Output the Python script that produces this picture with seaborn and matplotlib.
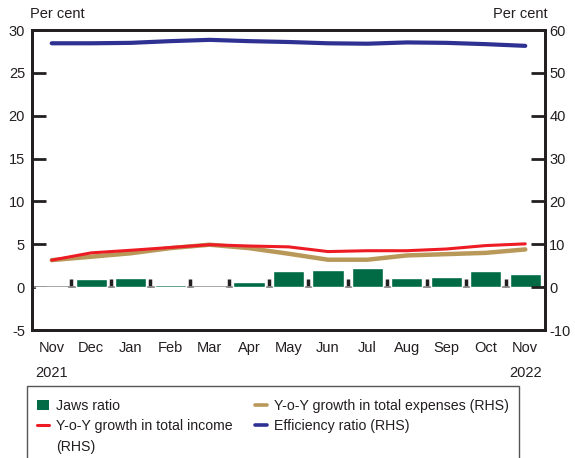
import numpy as np
import pandas as pd
import matplotlib
matplotlib.use("Agg")
import matplotlib.pyplot as plt
import seaborn as sns
from matplotlib.patches import Patch, Rectangle
from matplotlib.lines import Line2D

months = ["Nov", "Dec", "Jan", "Feb", "Mar", "Apr", "May", "Jun", "Jul", "Aug", "Sep", "Oct", "Nov"]
tick_labels = ["Nov\n2021", "Dec", "Jan", "Feb", "Mar", "Apr", "May", "Jun", "Jul", "Aug", "Sep", "Oct", "Nov\n2022"]
jaws_ratio = [-0.1, 0.95, 1.1, 0.25, -0.1, 0.55, 1.83, 2.02, 2.18, 1.09, 1.24, 1.83, 1.48]
income_growth = [6.3, 8.0, 8.6, 9.25, 9.9, 9.6, 9.4, 8.3, 8.5, 8.5, 8.9, 9.7, 10.1]
expense_growth = [6.3, 7.1, 7.9, 9.1, 9.9, 9.1, 7.8, 6.4, 6.4, 7.4, 7.7, 8.0, 8.8]
efficiency_ratio = [56.9, 56.9, 57.0, 57.4, 57.7, 57.4, 57.2, 56.9, 56.8, 57.1, 57.0, 56.7, 56.3]

GREEN = "#006B45"
RED = "#ED1C24"
GOLD = "#B8995A"
BLUE = "#2E3192"
DARK = "#231F20"

sns.set_theme(style="white")
plt.rcParams["font.family"] = ["Liberation Sans", "DejaVu Sans"]
plt.rcParams["font.size"] = 10.5
plt.rcParams["axes.unicode_minus"] = False

fig = plt.figure(figsize=(5.75, 4.58), dpi=100)
ax = fig.add_axes([32/575, 1-330/458, (545-32)/575, 300/458])

idx = np.arange(len(months))
df = pd.DataFrame({"pos": idx, "month": [f"{m}{i}" for i, m in enumerate(months)],
                   "jaws": jaws_ratio, "income": income_growth,
                   "expense": expense_growth, "eff": efficiency_ratio})

sns.barplot(data=df, x="month", y="jaws", color=GREEN, width=0.79, saturation=1,
            ax=ax, zorder=2)
ax.axhline(0, color="#8a8a8a", lw=1.3, zorder=1)
ax.set_xlim(-0.5, len(months) - 0.5)
ax.set_ylim(-5, 30)
ax.set_yticks(np.arange(-5, 31, 5))
ax.set_xticks(idx)
ax.set_xticklabels(tick_labels, linespacing=2.0, color=DARK)
ax.set_xlabel("")
ax.set_ylabel("")
ax.tick_params(axis="x", length=0, pad=8, labelsize=10.5)
ax.tick_params(axis="y", direction="in", length=10, width=2, color=DARK, pad=5,
               labelsize=10.5, labelcolor=DARK)
for t in ax.get_xticklabels():
    t.set_verticalalignment("top")

ax2 = ax.twinx()
sns.lineplot(data=df, x="pos", y="income", color=RED, lw=2.2, ax=ax2, zorder=3)
sns.lineplot(data=df, x="pos", y="expense", color=GOLD, lw=3.2, ax=ax2, zorder=2)
sns.lineplot(data=df, x="pos", y="eff", color=BLUE, lw=3.0, ax=ax2, zorder=3)
ax2.set_ylim(-10, 60)
ax2.set_yticks(np.arange(-10, 61, 10))
ax2.set_ylabel("")
ax2.set_xlabel("")
ax2.tick_params(axis="y", direction="in", length=10, width=2, color=DARK, pad=3,
                labelsize=10.5, labelcolor=DARK)
ax2.set_xlim(-0.5, len(months) - 0.5)

for a in (ax, ax2):
    for s in a.spines.values():
        s.set_color(DARK)
        s.set_linewidth(2)

# category separators on the zero line
sec = ax.secondary_xaxis(5/35)
sec.set_xticks(idx[:-1] + 0.5)
sec.tick_params(axis="x", direction="in", length=6, width=2.5, color=DARK, labelbottom=False)
sec.spines["bottom"].set_visible(False)

fig.text(30/575, 1-14/458, "Per cent", ha="left", va="center", fontsize=10.5, color=DARK)
fig.text(548/575, 1-14/458, "Per cent", ha="right", va="center", fontsize=10.5, color=DARK)

# legend box frame
fig.add_artist(Rectangle((27/575, -0.02), (519-27)/575, 0.02 + 1-386/458,
                         transform=fig.transFigure, fill=False,
                         edgecolor="#555555", lw=1.0))

handles = [Patch(facecolor=GREEN, edgecolor="none"),
           Line2D([], [], color=RED, lw=2.2),
           Line2D([], [], color="none", lw=0),
           Line2D([], [], color=GOLD, lw=2.6),
           Line2D([], [], color=BLUE, lw=2.6)]
labels = ["Jaws ratio", "Y-o-Y growth in total income", "(RHS)",
          "Y-o-Y growth in total expenses (RHS)", "Efficiency ratio (RHS)"]
leg = fig.legend(handles, labels, loc="upper left", ncol=2,
                 bbox_to_anchor=(37/575, 1-399/458), borderaxespad=0,
                 frameon=False, fontsize=10.2,
                 handlelength=0.85, handleheight=0.75, handletextpad=0.5,
                 labelspacing=0.45, borderpad=0, columnspacing=1.55)
for t in leg.get_texts():
    t.set_color(DARK)
leg.get_texts()[2].set_x(0)

fig.savefig("out.png", dpi=100)
